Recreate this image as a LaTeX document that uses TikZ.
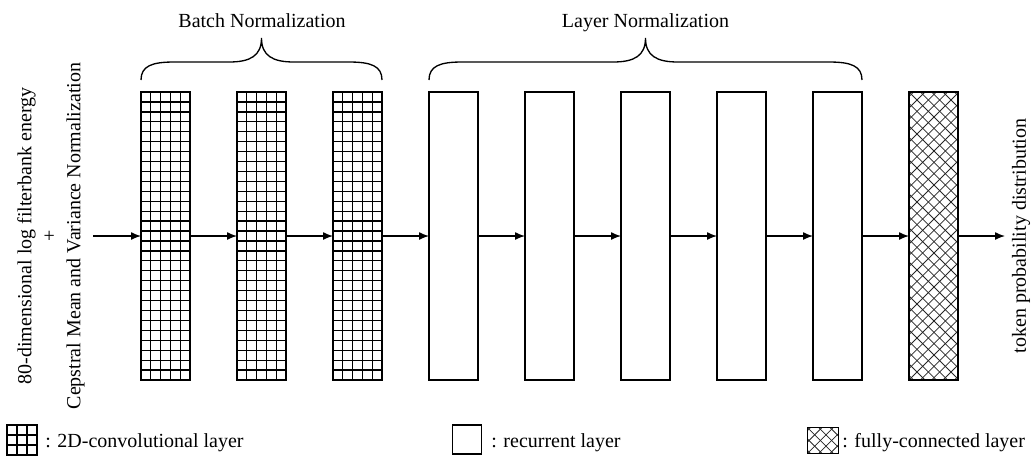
\documentclass[tikz,border=0pt]{standalone}
\usepackage{fontspec}
\setmainfont{Liberation Serif}
\usetikzlibrary{calc,arrows.meta}
\begin{document}
\begin{tikzpicture}[x=0.75pt,y=-0.75pt,
  font=\fontsize{15pt}{18.4pt}\selectfont,
  box/.style={draw, line width=1.2pt, minimum width=36.75pt, minimum height=216pt, inner sep=0pt, outer sep=0pt},
  gridfill/.style n args={2}{path picture={
    \foreach \i in {1,...,#1}{\draw[line width=0.95pt] ($(path picture bounding box.south west)!{\i/#1}!(path picture bounding box.south east)$) -- ($(path picture bounding box.north west)!{\i/#1}!(path picture bounding box.north east)$);}
    \foreach \j in {1,...,#2}{\draw[line width=0.95pt] ($(path picture bounding box.south west)!{\j/#2}!(path picture bounding box.north west)$) -- ($(path picture bounding box.south east)!{\j/#2}!(path picture bounding box.north east)$);}
  }},
  hatchfill/.style={path picture={
    \foreach \k in {-28,...,6}{
      \draw[line width=0.6pt, black!85] ([xshift=\k*8.5pt]path picture bounding box.south west) -- ++(250pt,250pt);
      \draw[line width=0.6pt, black!85] ([xshift=\k*8.5pt]path picture bounding box.north west) -- ++(250pt,-250pt);}
  }},
  conv/.style={box, gridfill={5}{29}},
  rec/.style={box, line width=1.1pt},
  fc/.style={box, hatchfill},
  arr/.style={-{Latex[length=7.5pt,width=6pt]}, line width=1pt},
  bracestyle/.style={line width=1pt},
  legtext/.style={anchor=base west, inner sep=0pt}
]
\useasboundingbox (0,0) rectangle (1033,458);

% layer boxes
\node[conv] (c1) at (165.5,236) {};
\node[conv] (c2) at (261.5,236) {};
\node[conv] (c3) at (357.5,236) {};
\node[rec] (r1) at (453.5,236) {};
\node[rec] (r2) at (549.5,236) {};
\node[rec] (r3) at (645.5,236) {};
\node[rec] (r4) at (741.5,236) {};
\node[rec] (r5) at (837.5,236) {};
\node[fc] (f) at (933.5,236) {};

% input / output texts
\node[rotate=90, align=center] (inp) at (51,236) {80-dimensional log filterbank energy\\+\\Cepstral Mean and Variance Normalization};
\node[rotate=90] (tok) at (1021,236) {token probability distribution};

\coordinate (in) at (93,236);
\coordinate (out) at (1005,236);

% arrows
\draw[arr] (in) -- (c1.west);
\draw[arr] (c1.east) -- (c2.west);
\draw[arr] (c2.east) -- (c3.west);
\draw[arr] (c3.east) -- (r1.west);
\draw[arr] (r1.east) -- (r2.west);
\draw[arr] (r2.east) -- (r3.west);
\draw[arr] (r3.east) -- (r4.west);
\draw[arr] (r4.east) -- (r5.west);
\draw[arr] (r5.east) -- (f.west);
\draw[arr] (f.east) -- (out);

% braces
\draw[bracestyle] (141,80) .. controls (141,66) and (152,62) .. (174,62) -- (229,62)
  .. controls (250,62) and (261.5,56) .. (261.5,38)
  .. controls (261.5,56) and (273,62) .. (294,62) -- (349,62)
  .. controls (371,62) and (382,66) .. (382,80);
\draw[bracestyle] (429,80) .. controls (429,66) and (440,62) .. (462,62) -- (613,62)
  .. controls (634,62) and (645.5,56) .. (645.5,38)
  .. controls (645.5,56) and (657,62) .. (678,62) -- (829,62)
  .. controls (851,62) and (862,66) .. (862,80);
\node[anchor=base] (bn) at (262,27) {Batch Normalization};
\node[anchor=base] (ln) at (645.5,27) {Layer Normalization};

% legend
\node[box, gridfill={3}{3}, minimum width=22.5pt, minimum height=22.5pt, line width=1.2pt] (lc) at (22,440) {};
\node[legtext] (lct) at (45,447) {: 2D-convolutional layer};
\node[box, minimum width=22pt, minimum height=21.5pt, line width=1.1pt] (lr) at (467,439.5) {};
\node[legtext] (lrt) at (491,447) {: recurrent layer};
\node[box, hatchfill, minimum width=23.5pt, minimum height=19.5pt, line width=1pt] (lf) at (823,440.5) {};
\node[legtext] (lft) at (842,447) {: fully-connected layer};
\end{tikzpicture}
\end{document}
